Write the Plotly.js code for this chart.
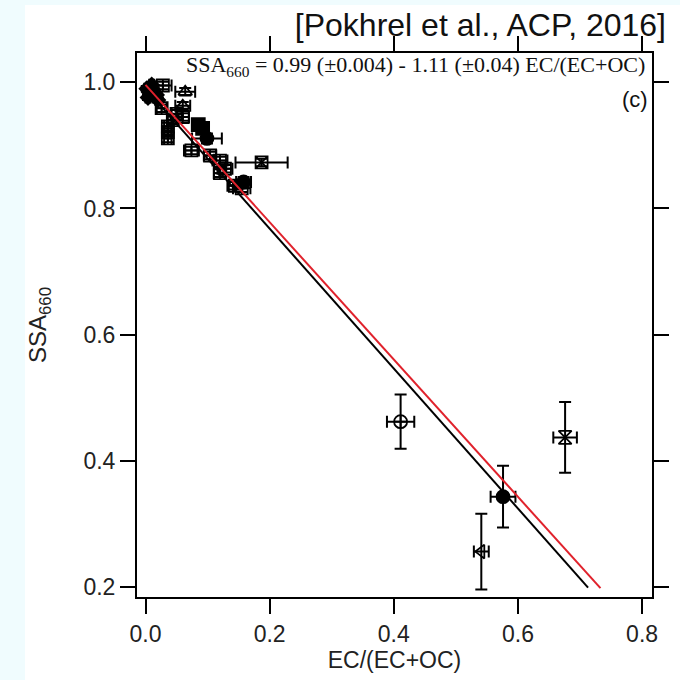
<!DOCTYPE html>
<html>
<head>
<meta charset="utf-8">
<script src="https://cdn.plot.ly/plotly-3.0.1.min.js"></script>
<style>html,body{margin:0;padding:0;background:#f0fcfe;}#chart{width:680px;height:680px;}</style>
</head>
<body>
<div id="chart"></div>
<script>
// ---- data ----
const diamondX = [0.002, 0.006, 0.010, 0.004, 0.013, 0.018, 0.020, 0.008];
const diamondY = [0.990, 0.984, 0.996, 0.976, 0.988, 0.980, 0.972, 0.992];
const diamondXErr = [0.004, 0.004, 0.004, 0.004, 0.004, 0.004, 0.004, 0.004];
const diamondYErr = [0.004, 0.004, 0.004, 0.004, 0.004, 0.004, 0.004, 0.004];

const fSquareX = [0.085, 0.092];
const fSquareY = [0.933, 0.927];
const fSquareXErr = [0.008, 0.008];
const fSquareYErr = [0.006, 0.006];

const fCircleX = [0.099, 0.158, 0.576];
const fCircleY = [0.911, 0.842, 0.343];
const fCircleXErr = [0.024, 0.012, 0.020];
const fCircleYErr = [0.008, 0.008, 0.049];

const sqCrossX = [0.028, 0.026, 0.036, 0.036, 0.036, 0.044, 0.060, 0.074, 0.104, 0.120, 0.128, 0.120, 0.144, 0.155, 0.050];
const sqCrossY = [0.995, 0.959, 0.930, 0.921, 0.911, 0.940, 0.945, 0.892, 0.884, 0.876, 0.863, 0.856, 0.836, 0.832, 0.950];
const sqCrossXErr = [0.014, 0.008, 0.006, 0.006, 0.006, 0.008, 0.010, 0.012, 0.010, 0.012, 0.012, 0.010, 0.012, 0.014, 0.008];
const sqCrossYErr = [0.006, 0.006, 0.006, 0.006, 0.006, 0.006, 0.006, 0.006, 0.006, 0.006, 0.006, 0.006, 0.006, 0.006, 0.006];

const triX = [0.064, 0.060];
const triY = [0.985, 0.963];
const triXErr = [0.016, 0.012];
const triYErr = [0.006, 0.006];

const sqXX = [0.187];
const sqXY = [0.873];
const sqXXErr = [0.042];
const sqXYErr = [0.006];

const hourX = [0.676];
const hourY = [0.437];
const hourXErr = [0.019];
const hourYErr = [0.056];

const cCrossX = [0.411];
const cCrossY = [0.462];
const cCrossXErr = [0.022];
const cCrossYErr = [0.043];

const triLX = [0.541];
const triLY = [0.256];
const triLXErr = [0.012];
const triLYErr = [0.060];

// fitted lines (end points)
const fitBlackX = [0.000, 0.713];
const fitBlackY = [0.990, 0.199];
const fitRedX = [0.000, 0.733];
const fitRedY = [0.996, 0.198];

const xTicks = [0.0, 0.2, 0.4, 0.6, 0.8];
const xTickText = ['0.0', '0.2', '0.4', '0.6', '0.8'];
const yTicks = [0.2, 0.4, 0.6, 0.8, 1.0];
const yTickText = ['0.2', '0.4', '0.6', '0.8', '1.0'];

// ---- traces ----
function pts(x, y, ex, ey, symbol, size, name) {
  return {
    type: 'scatter', mode: 'markers', x: x, y: y, name: name,
    marker: {symbol: symbol, size: size, color: '#000', line: {color: '#000', width: 1.8}},
    error_x: {type: 'data', array: ex, visible: true, color: '#000', thickness: 2, width: 6},
    error_y: {type: 'data', array: ey, visible: true, color: '#000', thickness: 2, width: 6},
    showlegend: false, cliponaxis: false
  };
}

const traces = [
  pts(sqCrossX, sqCrossY, sqCrossXErr, sqCrossYErr, 'square-cross-open', 12, 'squares'),
  pts(triX, triY, triXErr, triYErr, 'triangle-up-open', 12, 'triangles'),
  pts(sqXX, sqXY, sqXXErr, sqXYErr, 'square-x-open', 12, 'square x'),
  pts(fSquareX, fSquareY, fSquareXErr, fSquareYErr, 'square', 13, 'filled squares'),
  pts(diamondX, diamondY, diamondXErr, diamondYErr, 'diamond', 11, 'diamonds'),
  pts(fCircleX, fCircleY, fCircleXErr, fCircleYErr, 'circle', 13, 'circles'),
  pts(hourX, hourY, hourXErr, hourYErr, 'hourglass-open', 13, 'hourglass'),
  pts(cCrossX, cCrossY, cCrossXErr, cCrossYErr, 'circle-cross-open', 13, 'circle cross'),
  pts(triLX, triLY, triLXErr, triLYErr, 'triangle-left-open', 12, 'triangle left'),
  {type: 'scatter', mode: 'lines', x: fitRedX, y: fitRedY, line: {color: '#e0222c', width: 2}, showlegend: false},
  {type: 'scatter', mode: 'lines', x: fitBlackX, y: fitBlackY, line: {color: '#000', width: 2}, showlegend: false}
];

const axisCommon = {
  showgrid: false, zeroline: false, showline: true, linecolor: '#000', linewidth: 2,
  mirror: 'ticks', ticks: 'outside', ticklen: 15, tickwidth: 2, tickcolor: '#000',
  tickfont: {family: 'Liberation Sans, Arial, sans-serif', size: 23, color: '#222'}
};

const layout = {
  width: 680, height: 680,
  margin: {l: 137, r: 28, t: 53, b: 83},
  paper_bgcolor: '#f0fcfe', plot_bgcolor: '#fff',
  title: {
    text: '[Pokhrel et al., ACP, 2016]',
    font: {family: 'Liberation Sans, Arial, sans-serif', size: 32, color: '#111'},
    xref: 'container', yref: 'container', x: 666 / 680, xanchor: 'right',
    y: 1 - 25 / 680, yanchor: 'middle'
  },
  xaxis: Object.assign({}, axisCommon, {
    range: [-0.0137, 0.816], tickvals: xTicks, ticktext: xTickText,
    title: {text: 'EC/(EC+OC)', font: {family: 'Liberation Sans, Arial, sans-serif', size: 23, color: '#222'}, standoff: 4}
  }),
  yaxis: Object.assign({}, axisCommon, {
    range: [0.184, 1.0465], tickvals: yTicks, ticktext: yTickText,
    title: {text: 'SSA<sub>660</sub>', font: {family: 'Liberation Sans, Arial, sans-serif', size: 24, color: '#222'}, standoff: 30}
  }),
  shapes: [
    {type: 'rect', xref: 'paper', yref: 'paper', layer: 'below',
     x0: (25 - 137) / 515, x1: (680 - 137) / 515, y0: (597 - 680) / 544, y1: (597 - 5) / 544,
     fillcolor: '#fff', line: {width: 0}}
  ],
  annotations: [
    {xref: 'paper', yref: 'paper', x: (184 - 137) / 515, y: (597 - 66) / 544, xanchor: 'left', yanchor: 'middle',
     text: 'SSA<sub>660</sub> = 0.99 (±0.004) - 1.11 (±0.04) EC/(EC+OC)', showarrow: false,
     font: {family: 'Liberation Serif, Times New Roman, serif', size: 22, color: '#111'}},
    {xref: 'paper', yref: 'paper', x: (650 - 137) / 515, y: (597 - 99) / 544, xanchor: 'right', yanchor: 'middle',
     text: '(c)', showarrow: false,
     font: {family: 'Liberation Sans, Arial, sans-serif', size: 22, color: '#111'}}
  ]
};

Plotly.newPlot('chart', traces, layout, {displayModeBar: false, staticPlot: true});
</script>
</body>
</html>
